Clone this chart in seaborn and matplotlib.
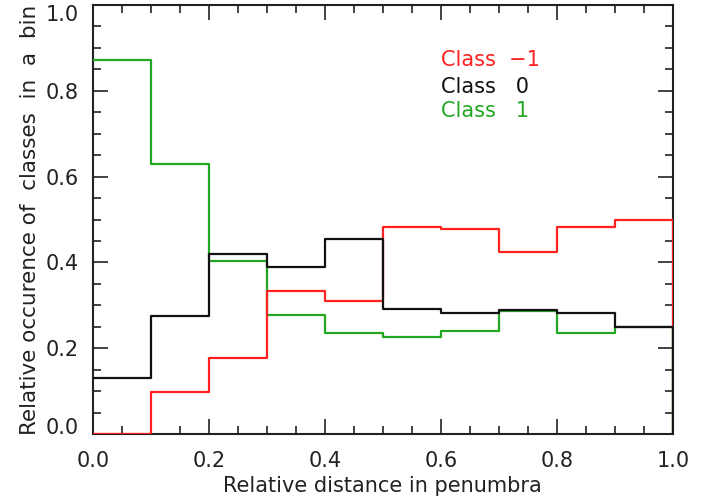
import numpy as np
import pandas as pd
import seaborn as sns
import matplotlib
matplotlib.use("Agg")
import matplotlib.pyplot as plt
from matplotlib.ticker import MultipleLocator

# bin edges of the relative distance in the penumbra
edges = [0.0, 0.1, 0.2, 0.3, 0.4, 0.5, 0.6, 0.7, 0.8, 0.9, 1.0]

# relative occurence per bin
class_m1 = [0.0, 0.098, 0.178, 0.334, 0.310, 0.483, 0.479, 0.425, 0.483, 0.500]
class_0 = [0.130, 0.275, 0.420, 0.389, 0.455, 0.291, 0.283, 0.289, 0.283, 0.250]
class_1 = [0.872, 0.629, 0.403, 0.277, 0.236, 0.227, 0.240, 0.287, 0.235, 0.250]

yticks = [0.0, 0.2, 0.4, 0.6, 0.8, 1.0]
xticks = [0.0, 0.2, 0.4, 0.6, 0.8, 1.0]

labels = ["Class  \u22121", "Class   0", "Class   1"]
colors = ["#ff2020", "#111111", "#22a822"]

sns.set_style("ticks")
plt.rcParams["font.family"] = ["DejaVu Sans"]

def steps(vals, name):
    # histogram outline: bins then a drop to zero at the right edge
    xs = edges + [edges[-1]]
    ys = list(vals) + [vals[-1], 0.0]
    return pd.DataFrame({"x": xs, "y": ys, "cls": name})

df = pd.concat([steps(class_1, labels[2]),
                steps(class_m1, labels[0]),
                steps(class_0, labels[1])], ignore_index=True)

fig = plt.figure(figsize=(7.18, 5.01), dpi=100)
ax = fig.add_axes([0.1295, 0.1337, 0.8075, 0.8563])

for name in [labels[2], labels[0], labels[1]]:
    sub = df[df["cls"] == name]
    sns.lineplot(data=sub, x="x", y="y", ax=ax, estimator=None, sort=False,
                 drawstyle="steps-post", color=colors[labels.index(name)],
                 linewidth=1.6, zorder=3, legend=False)

ax.set_xlim(0, 1)
ax.set_ylim(0, 1)
ax.set_xticks(xticks, [f"{v:.1f}" for v in xticks])
ax.set_yticks(yticks, [f"{v:.1f}" for v in yticks])
ax.xaxis.set_minor_locator(MultipleLocator(0.05))
ax.yaxis.set_minor_locator(MultipleLocator(0.05))
ax.tick_params(which="both", direction="in", top=True, right=True,
               color="#222222", width=1.2)
ax.tick_params(which="major", length=11, labelsize=15, labelcolor="#222222")
ax.tick_params(axis="x", which="major", pad=12)
ax.tick_params(axis="y", which="major", pad=10)
ax.tick_params(which="minor", length=6)
for s in ax.spines.values():
    s.set_linewidth(1.5)
    s.set_color("#222222")
    s.set_zorder(2.5)

ax.set_xlabel("Relative distance in penumbra", fontsize=15, color="#222222",
              labelpad=4)
ax.set_ylabel("Relative occurence of  classes  in  a  bin", fontsize=15.5,
              color="#222222", labelpad=4)

# the end labels sit inside the frame, as in the original
ylabs = ax.get_yticklabels()
ylabs[0].set_va("baseline")
ylabs[-1].set_va("top")

for i, (lab, ty) in enumerate(zip(labels, [0.858, 0.796, 0.739])):
    ax.text(0.6, ty, lab, color=colors[i], fontsize=15, va="baseline",
            ha="left")

fig.savefig("out.png", dpi=100)
